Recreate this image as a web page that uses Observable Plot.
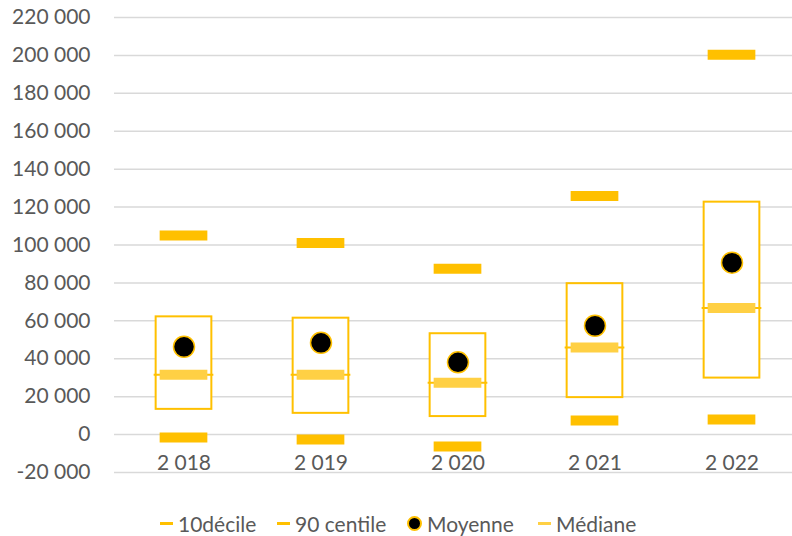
<!DOCTYPE html>
<html>
<head>
<meta charset="utf-8">
<script src="https://cdn.jsdelivr.net/npm/d3@7"></script>
<script src="https://cdn.jsdelivr.net/npm/@observablehq/plot@0.6"></script>
<style>
  html, body { margin: 0; padding: 0; background: #fff; }
  #wrap { width: 792px; height: 536px; position: relative; font-family: Lato, "Open Sans", sans-serif; }
  #legend { position: absolute; left: 0; top: 506px; width: 792px; height: 34px; font-size: 21px; color: #595959; }
  .item { position: absolute; top: 0; display: flex; align-items: center; height: 34px; }
  .sw { display: inline-block; width: 13px; height: 3px; margin-right: 5px; }
  .dotsw { display: inline-block; width: 15px; height: 15px; border-radius: 50%; background: #000; box-sizing: border-box; border: 2px solid #FFC000; margin-right: 5px; }
</style>
</head>
<body>
<div id="wrap">
  <div id="chart"></div>
  <div id="legend"></div>
</div>
<script>
const years = ["2018", "2019", "2020", "2021", "2022"];
const yearLabels = ["2 018", "2 019", "2 020", "2 021", "2 022"];
const decile10 = [-1500, -2600, -6300, 7400, 7900];
const centile90 = [105000, 101000, 87500, 125800, 200300];
const moyenne = [46300, 48400, 38100, 57400, 90700];
const mediane = [31600, 31600, 27400, 45900, 66800];
const q1 = [13300, 11200, 9500, 19500, 29800];
const q3 = [62100, 61400, 53200, 79600, 122600];
const yTicks = [-20000, 0, 20000, 40000, 60000, 80000, 100000, 120000, 140000, 160000, 180000, 200000, 220000];
const legendItems = ["10décile", "90 centile", "Moyenne", "Médiane"];

const rows = years.map((y, i) => ({
  year: y, label: yearLabels[i], d10: decile10[i], c90: centile90[i],
  mean: moyenne[i], med: mediane[i], q1: q1[i], q3: q3[i]
}));

const fmt = v => d3.format(",")(v).replace(/,/g, " ").replace("−", "-");

const gold = "#FFC000";
const lightGold = "#FFD044";
const bandW = (800.5 - 114) / 5;
const boxInset = (bandW - 56) / 2;
const barInset = (bandW - 48) / 2;

const chart = Plot.plot({
  width: 792,
  height: 492,
  marginTop: 17,
  marginBottom: 20,
  marginLeft: 114,
  marginRight: 0,
  style: { fontFamily: "Lato, 'Open Sans', sans-serif", fontSize: "21px", color: "#595959", background: "#fff" },
  x: { type: "band", domain: years, range: [114, 800.5], padding: 0, axis: null },
  y: { domain: [-20000, 220000], range: [472, 17], axis: null },
  marks: [
    Plot.ruleY(yTicks, { stroke: "#D9D9D9", strokeWidth: 1.5 }),
    Plot.text(yTicks, { y: d => d, text: d => fmt(d), textAnchor: "end", frameAnchor: "left", dx: -24, fill: "#595959", fontSize: 21 }),
    Plot.text(rows, { x: "year", y: () => -20000, text: "label", dy: -9, fill: "#595959", fontSize: 21 }),
    Plot.barY(rows, { x: "year", y1: "q1", y2: "q3", fill: "#fff", stroke: gold, strokeWidth: 2, insetLeft: boxInset, insetRight: boxInset }),
    Plot.tickY(rows, { x: "year", y: "med", stroke: gold, strokeWidth: 2, insetLeft: boxInset - 2, insetRight: boxInset - 2 }),
    Plot.tickY(rows, { x: "year", y: "med", stroke: lightGold, strokeWidth: 10, insetLeft: barInset, insetRight: barInset }),
    Plot.tickY(rows, { x: "year", y: "d10", stroke: gold, strokeWidth: 10, insetLeft: barInset, insetRight: barInset }),
    Plot.tickY(rows, { x: "year", y: "c90", stroke: gold, strokeWidth: 10, insetLeft: barInset, insetRight: barInset }),
    Plot.dot(rows, { x: "year", y: "mean", r: 10.5, fill: "#000", stroke: gold, strokeWidth: 1.5 })
  ]
});
document.getElementById("chart").appendChild(chart);

const legend = document.getElementById("legend");
const lefts = [160, 277, 407, 538];
legendItems.forEach((name, i) => {
  const it = document.createElement("div");
  it.className = "item";
  it.style.left = lefts[i] + "px";
  const sw = document.createElement("span");
  if (i === 2) { sw.className = "dotsw"; }
  else { sw.className = "sw"; sw.style.background = i === 3 ? lightGold : gold; }
  it.appendChild(sw);
  const tx = document.createElement("span");
  tx.textContent = name;
  it.appendChild(tx);
  legend.appendChild(it);
});
</script>
</body>
</html>
